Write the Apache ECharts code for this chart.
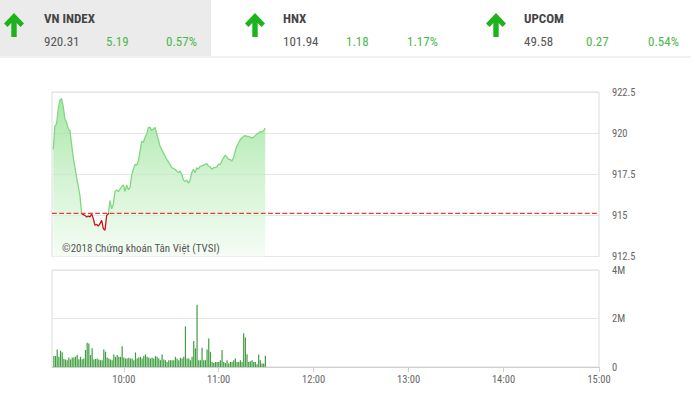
<!DOCTYPE html>
<html><head><meta charset="utf-8">
<script src="https://cdn.jsdelivr.net/npm/echarts@6/dist/echarts.min.js"></script>
<style>html,body{margin:0;padding:0;background:#fff}#c{width:691px;height:393px}</style>
</head><body><div id="c"></div>
<script>
// ---------- data ----------
const indexNames = ['VN INDEX', 'HNX', 'UPCOM'];
const indexValues = ['920.31', '101.94', '49.58'];
const indexChanges = ['5.19', '1.18', '0.27'];
const indexPercents = ['0.57%', '1.17%', '0.54%'];
const timeLabels = ['10:00', '11:00', '12:00', '13:00', '14:00', '15:00'];
const sessionOpen = '09:15';
const sessionClose = '15:00';
const priceMin = 912.5, priceMax = 922.5, priceStep = 2.5;
const volumeMax = 4, volumeStep = 2; // millions
const referencePrice = 915.12;
const watermark = '©2018 Chứng khoán Tân Việt (TVSI)';
// samples start at ~09:15:48 and are ~63 s apart
const firstSampleMinute = 555.8;
const sampleStepMinutes = 1.0526;
const priceValues = [
  919.0, 920.45, 920.55, 921.5, 922.0, 922.1, 921.6, 920.85, 920.65, 920.25,
  920.15, 919.3, 918.5, 917.9, 917.3, 916.75, 916.2, 915.1, 915.05, 915.0,
  914.9, 914.95, 914.9, 915.1, 914.8, 914.4, 914.45, 914.35, 914.5, 914.7,
  914.2, 914.1, 915.0, 915.1, 915.9, 915.4, 915.7, 916.45, 916.55, 916.45,
  916.6, 916.75, 916.85, 916.45, 916.85, 916.55, 916.7, 917.45, 917.8, 918.1,
  918.05, 918.3, 918.9, 919.5, 919.45, 919.75, 919.95, 920.35, 920.35, 920.15,
  920.25, 920.35, 919.95, 919.6, 919.2, 919.0, 918.8, 918.6, 918.4, 918.25,
  918.1, 917.9, 917.85, 917.8, 917.7, 917.6, 917.7, 917.5, 917.15, 917.05,
  917.15, 916.95, 917.15, 917.6, 917.8, 917.6, 917.9, 917.8, 918.0, 918.0,
  918.05, 918.1, 918.15, 918.0, 917.95, 917.8, 917.9, 917.9, 917.95, 918.1,
  918.1, 918.3, 918.5, 918.65, 918.55, 918.4, 918.4, 918.3, 918.5, 918.9,
  919.2, 919.4, 919.6, 919.7, 919.8, 919.85, 919.8, 919.8, 919.75, 919.7,
  919.75, 919.85, 919.95, 920.0, 920.1, 920.05, 920.15, 920.31
];
const volumeMillions = [
  0.45, 0.45, 0.72, 0.42, 0.67, 0.61, 0.33, 0.31, 0.28, 0.39,
  0.31, 0.39, 0.39, 0.42, 0.49, 0.32, 0.42, 0.32, 0.35, 0.70,
  1.00, 0.97, 0.49, 0.77, 0.31, 0.33, 0.35, 0.31, 0.28, 0.28,
  0.72, 0.63, 0.39, 0.35, 0.31, 0.28, 0.52, 0.42, 0.49, 0.42,
  0.42, 0.86, 0.39, 0.35, 0.35, 0.38, 0.35, 0.35, 0.28, 0.60,
  0.35, 0.39, 0.42, 0.35, 0.45, 0.52, 0.42, 0.38, 0.35, 0.38,
  0.35, 0.45, 0.42, 0.35, 0.28, 0.52, 0.31, 0.28, 0.21, 0.28,
  0.28, 0.28, 0.28, 0.42, 0.35, 0.28, 0.38, 0.35, 0.42, 1.67,
  0.35, 0.35, 0.28, 0.42, 1.07, 0.77, 2.57, 0.28, 0.28, 0.79,
  0.28, 0.28, 0.72, 1.18, 0.63, 0.21, 0.17, 0.21, 0.21, 0.21,
  0.28, 0.70, 0.21, 0.17, 0.28, 0.14, 0.21, 0.21, 0.28, 0.35,
  0.21, 0.21, 0.28, 0.21, 1.39, 1.22, 0.53, 0.21, 0.24, 0.28,
  0.21, 0.21, 0.11, 0.52, 0.28, 0.14, 0.14, 0.46
];

// ---------- helpers ----------
const DAY = [2018, 0, 1];
const toMin = s => { const [h, m] = s.split(':').map(Number); return h * 60 + m; };
const minToTs = mins => new Date(DAY[0], DAY[1], DAY[2], 0, 0, 0).getTime() + Math.round(mins * 60000);
const pad = n => (n < 10 ? '0' : '') + n;
const fmtTime = ts => { const d = new Date(ts); return pad(d.getHours()) + ':' + pad(d.getMinutes()); };
const sampleTimes = priceValues.map((_, i) => minToTs(firstSampleMinute + i * sampleStepMinutes));
const priceData = priceValues.map((v, i) => [sampleTimes[i], v]);
const volumeData = volumeMillions.map((v, i) => [sampleTimes[i], v]);
const labelSet = new Set(timeLabels);
const HOUR = 3600 * 1000;
const xMin = minToTs(toMin(sessionOpen)), xMax = minToTs(toMin(sessionClose));
const referenceData = [[xMin, referencePrice], [xMax, referencePrice]];

// line colour switches to red below the reference price (hard stop in a bbox-relative gradient)
const pHi = Math.max(...priceValues), pLo = Math.min(...priceValues);
const refStop = (pHi - referencePrice) / (pHi - pLo);
const UP_COLOR = '#80d880', DOWN_COLOR = '#cc1414';
const REF_COLOR = 'rgb(230,60,60)';

const FONT = "'Roboto Condensed','Liberation Sans Narrow','Arial Narrow',Roboto,sans-serif";
const GREEN_TXT = '#4cb84c';

// ---------- header graphics ----------
const titleX = [44, 283, 524];
const changeX = [106, 346, 586];
const pctX = [166, 407, 648];
const arrowCX = [14, 255, 496];
const graphic = [
  { type: 'rect', left: 0, top: 0, shape: { width: 211, height: 56 }, style: { fill: '#ebebeb' }, z: 0 },
  { type: 'line', shape: { x1: 0, y1: 57, x2: 691, y2: 57 }, style: { stroke: '#e4e4e4', lineWidth: 1 }, z: 0 },
  { type: 'text', x: 62, y: 248, style: { text: watermark, fill: '#555', font: '11px ' + FONT, textVerticalAlign: 'middle' }, z: 10 }
];
indexNames.forEach((name, i) => {
  const cx = arrowCX[i];
  graphic.push({
    type: 'polygon', z: 5,
    shape: { points: [[cx, 13], [cx + 10, 23.5], [cx + 6.5, 27], [cx + 2.7, 23], [cx + 2.7, 37], [cx - 2.7, 37], [cx - 2.7, 23], [cx - 6.5, 27], [cx - 10, 23.5]] },
    style: { fill: '#1db31d' }
  });
  graphic.push({ type: 'text', x: titleX[i], y: 18, z: 5, style: { text: name, fill: '#444', font: 'bold 13px ' + FONT, textVerticalAlign: 'middle' } });
  graphic.push({ type: 'text', x: titleX[i], y: 41.5, z: 5, style: { text: indexValues[i], fill: '#555', font: '13px ' + FONT, textVerticalAlign: 'middle' } });
  graphic.push({ type: 'text', x: changeX[i], y: 41.5, z: 5, style: { text: indexChanges[i], fill: GREEN_TXT, font: '13px ' + FONT, textVerticalAlign: 'middle' } });
  graphic.push({ type: 'text', x: pctX[i], y: 41.5, z: 5, style: { text: indexPercents[i], fill: GREEN_TXT, font: '13px ' + FONT, textVerticalAlign: 'middle' } });
});

const chart = echarts.init(document.getElementById('c'), null, { renderer: 'svg' });
const axisLabelStyle = { color: '#666', fontSize: 10.5, fontFamily: FONT };
chart.setOption({
  animation: false,
  backgroundColor: '#fff',
  graphic: graphic,
  grid: [
    { left: 52, right: 92, top: 92, height: 164.5, show: true, borderColor: '#dcdcdc', borderWidth: 1 },
    { left: 52, right: 92, top: 270, height: 97, show: true, borderColor: '#dcdcdc', borderWidth: 1 }
  ],
  xAxis: [
    { gridIndex: 0, type: 'time', min: xMin, max: xMax, show: false },
    {
      gridIndex: 1, type: 'time', min: xMin, max: xMax, minInterval: HOUR, maxInterval: HOUR,
      axisLine: { show: true, lineStyle: { color: '#cfcfcf' } },
      axisTick: { show: true, length: 5, lineStyle: { color: '#cfcfcf' } },
      axisLabel: Object.assign({
        margin: 7, showMinLabel: false, showMaxLabel: true, hideOverlap: false,
        formatter: v => { const t = fmtTime(v); return labelSet.has(t) ? t : ''; }
      }, axisLabelStyle),
      splitLine: { show: false }
    }
  ],
  yAxis: [
    {
      gridIndex: 0, type: 'value', position: 'right', min: priceMin, max: priceMax, interval: priceStep,
      axisLine: { show: false }, axisTick: { show: false },
      axisLabel: Object.assign({ margin: 13 }, axisLabelStyle),
      splitLine: { show: true, lineStyle: { color: '#e6e6e6' } }
    },
    {
      gridIndex: 1, type: 'value', position: 'right', min: 0, max: volumeMax, interval: volumeStep,
      axisLine: { show: false }, axisTick: { show: false },
      axisLabel: Object.assign({ margin: 13, formatter: v => v === 0 ? '0' : v + 'M' }, axisLabelStyle),
      splitLine: { show: true, lineStyle: { color: '#e6e6e6' } }
    }
  ],
  series: [
    {
      type: 'line', xAxisIndex: 0, yAxisIndex: 0, data: priceData, showSymbol: false, symbol: 'none',
      lineStyle: {
        width: 1.3,
        color: new echarts.graphic.LinearGradient(0, 0, 0, 1, [
          { offset: 0, color: UP_COLOR },
          { offset: refStop, color: UP_COLOR },
          { offset: refStop, color: DOWN_COLOR },
          { offset: 1, color: DOWN_COLOR }
        ])
      },
      areaStyle: {
        origin: 'start',
        color: new echarts.graphic.LinearGradient(0, 0, 0, 1, [
          { offset: 0, color: '#86dd86' },
          { offset: 0.5, color: '#c0eec0' },
          { offset: 1, color: '#f2fbf2' }
        ])
      },
      z: 3
    },
    {
      type: 'line', xAxisIndex: 0, yAxisIndex: 0, data: referenceData, showSymbol: false, symbol: 'none',
      color: REF_COLOR, itemStyle: { color: REF_COLOR },
      lineStyle: { color: REF_COLOR, type: 'dashed', dashOffset: 0, width: 1.2 }, silent: true, z: 4
    },
    {
      type: 'bar', xAxisIndex: 1, yAxisIndex: 1, data: volumeData, barWidth: 1.2,
      itemStyle: { color: '#3f9e3f' }
    }
  ]
});
</script></body></html>
